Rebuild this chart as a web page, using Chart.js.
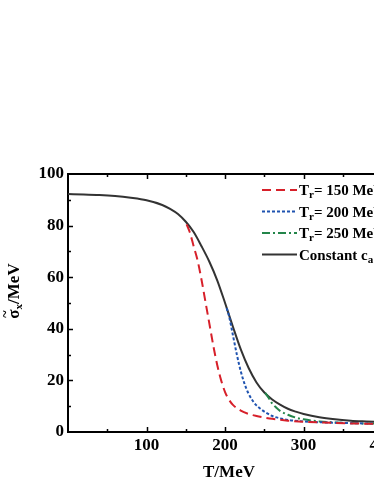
<!DOCTYPE html>
<html>
<head>
<meta charset="utf-8">
<script src="https://cdn.jsdelivr.net/npm/chart.js@4.4.1/dist/chart.umd.min.js"></script>
<style>
  html, body { margin: 0; padding: 0; background: #fff; overflow: hidden; width: 374px; height: 484px; }
  canvas { display: block; }
</style>
</head>
<body>
<canvas id="c" width="420" height="484"></canvas>
<script>
// ---- data ----
const xTickLabels = [100, 200, 300, 400];
const yTickLabels = [0, 20, 40, 60, 80, 100];

const legendLabels = ["T_r= 150 MeV", "T_r= 200 MeV", "T_r= 250 MeV", "Constant c_a"];

const tRed = [151, 155, 160, 165, 170, 175, 180, 185, 190, 195, 200, 205, 210, 220, 230, 240, 250, 260, 280, 300, 340, 380, 410];
const vRed = [80.5, 77.5, 72, 66.5, 59, 50.5, 42, 33.5, 26, 20, 15.5, 12.5, 10.5, 8.3, 7, 6.2, 5.6, 5.1, 4.4, 4.0, 3.5, 3.2, 3.1];

const tBlue = [202, 205, 210, 215, 220, 225, 230, 235, 240, 245, 250, 260, 270, 280, 300, 340, 380, 410];
const vBlue = [48, 45, 37.5, 30, 23.5, 18.5, 14.8, 12.2, 10.3, 9, 7.9, 6.2, 5.3, 4.7, 4.1, 3.6, 3.3, 3.2];

const tGreen = [251, 256, 260, 265, 270, 280, 290, 300, 320, 340, 380, 410];
const vGreen = [15.2, 13, 11, 9.5, 8.2, 6.7, 5.6, 4.9, 4.1, 3.7, 3.3, 3.2];

const tBlack = [0, 20, 40, 60, 80, 100, 120, 130, 140, 150, 160, 170, 180, 190, 200, 210, 220, 230, 240, 250, 260, 270, 280, 290, 300, 320, 340, 360, 380, 410];
const vBlack = [92.2, 92.1, 91.9, 91.5, 90.8, 89.8, 88, 86.5, 84.5, 81.5, 77.5, 72, 66, 58.8, 50, 40.8, 32, 24.8, 19.2, 15.3, 12.6, 10.6, 9.0, 7.9, 7.0, 5.7, 4.9, 4.4, 4.1, 3.7];

const pts = (t, v) => t.map((x, i) => ({ x: x, y: v[i] }));

const FONT = "'Liberation Serif', 'Times New Roman', serif";

// ---- plugin: inward ticks, frame, y title, legend ----
const decor = {
  id: 'decor',
  afterDraw(chart) {
    const ctx = chart.ctx;
    const a = chart.chartArea;
    const xs = chart.scales.x, ys = chart.scales.y;
    ctx.save();
    ctx.strokeStyle = '#000';
    ctx.lineWidth = 2;
    // top & right frame
    ctx.beginPath();
    ctx.moveTo(a.left - 1, a.top); ctx.lineTo(a.right, a.top);
    ctx.moveTo(a.right, a.top); ctx.lineTo(a.right, a.bottom);
    ctx.stroke();
    // x ticks (bottom & top)
    ctx.lineWidth = 1.5;
    for (let v = 50; v < xs.max; v += 50) {
      const px = Math.round(xs.getPixelForValue(v)) + 0.5;
      const len = (v % 100 === 0) ? 5 : 3;
      ctx.beginPath();
      ctx.moveTo(px, a.bottom); ctx.lineTo(px, a.bottom - len);
      ctx.moveTo(px, a.top); ctx.lineTo(px, a.top + len);
      ctx.stroke();
    }
    // y ticks (left & right)
    for (let v = 10; v < ys.max; v += 10) {
      const py = Math.round(ys.getPixelForValue(v)) + 0.5;
      const len = (v % 20 === 0) ? 5 : 3;
      ctx.beginPath();
      ctx.moveTo(a.left, py); ctx.lineTo(a.left + len, py);
      ctx.moveTo(a.right, py); ctx.lineTo(a.right - len, py);
      ctx.stroke();
    }

    // y axis title: sigma-tilde, subscript x, /MeV  (rotated)
    ctx.fillStyle = '#000';
    ctx.textBaseline = 'alphabetic';
    ctx.textAlign = 'left';
    const big = 'bold 17px ' + FONT, small = 'bold 11px ' + FONT;
    ctx.font = big; const wS = ctx.measureText('σ').width;
    ctx.font = small; const wX = ctx.measureText('x').width;
    ctx.font = big; const wR = ctx.measureText('/MeV').width;
    const total = wS + wX + wR;
    ctx.translate(19, 291);
    ctx.rotate(-Math.PI / 2);
    let x0 = -total / 2;
    ctx.font = big;
    ctx.fillText('σ', x0, 0);
    ctx.font = 'bold 14px ' + FONT;
    const wT = ctx.measureText('~').width;
    ctx.fillText('~', x0 + wS / 2 - wT / 2, -9);
    x0 += wS;
    ctx.font = small;
    ctx.fillText('x', x0, 3);
    x0 += wX;
    ctx.font = big;
    ctx.fillText('/MeV', x0, 0);
    ctx.restore();

    // legend
    ctx.save();
    const rows = [190, 211.5, 233, 254.5];
    chart.data.datasets.forEach((ds, i) => {
      const y = rows[i];
      ctx.strokeStyle = ds.borderColor;
      ctx.lineWidth = ds.borderWidth;
      ctx.setLineDash(ds.borderDash || []);
      ctx.beginPath();
      ctx.moveTo(262, y); ctx.lineTo(297, y);
      ctx.stroke();
      ctx.setLineDash([]);
      ctx.fillStyle = '#000';
      ctx.textBaseline = 'alphabetic';
      const parts = ds.label.split('_');
      let x = 299;
      const base = y + 5;
      ctx.font = 'bold 15px ' + FONT;
      ctx.fillText(parts[0], x, base);
      x += ctx.measureText(parts[0]).width;
      if (parts.length > 1) {
        const sub = parts[1].charAt(0);
        const rest = parts[1].slice(1);
        ctx.font = 'bold 11px ' + FONT;
        ctx.fillText(sub, x, base + 3);
        x += ctx.measureText(sub).width;
        ctx.font = 'bold 15px ' + FONT;
        ctx.fillText(rest, x, base);
      }
    });
    ctx.restore();
  }
};

const common = { pointRadius: 0, fill: false, cubicInterpolationMode: 'monotone', borderWidth: 2 };

new Chart(document.getElementById('c'), {
  type: 'line',
  data: {
    datasets: [
      Object.assign({ label: legendLabels[0], data: pts(tRed, vRed), borderColor: '#d7202a', borderDash: [9, 5] }, common),
      Object.assign({ label: legendLabels[1], data: pts(tBlue, vBlue), borderColor: '#1f53b0', borderDash: [3, 2] }, common),
      Object.assign({ label: legendLabels[2], data: pts(tGreen, vGreen), borderColor: '#23854a', borderDash: [8, 3, 2, 3] }, common),
      Object.assign({ label: legendLabels[3], data: pts(tBlack, vBlack), borderColor: '#333333' }, common)
    ]
  },
  options: {
    responsive: false,
    animation: false,
    devicePixelRatio: 1,
    layout: { padding: { top: 174, left: 0, right: 30, bottom: 0 } },
    plugins: { legend: { display: false }, tooltip: { enabled: false } },
    scales: {
      x: {
        type: 'linear',
        min: 0, max: 410,
        afterBuildTicks: s => { s.ticks = xTickLabels.map(v => ({ value: v })); },
        afterFit: s => { s.height = 52; },
        grid: { display: false, drawTicks: false },
        border: { display: true, width: 2, color: '#000' },
        ticks: { color: '#000', padding: 3, maxRotation: 0, font: { family: FONT, weight: 'bold', size: 17 } },
        title: { display: true, text: 'T/MeV', color: '#000', padding: { top: 0, bottom: 1 }, font: { family: FONT, weight: 'bold', size: 17 } }
      },
      y: {
        type: 'linear',
        min: 0, max: 100,
        afterBuildTicks: s => { s.ticks = yTickLabels.map(v => ({ value: v })); },
        afterFit: s => { s.width = 68; },
        grid: { display: false, drawTicks: false },
        border: { display: true, width: 2, color: '#000' },
        ticks: { color: '#000', padding: 4, font: { family: FONT, weight: 'bold', size: 17 } }
      }
    }
  },
  plugins: [decor]
});
</script>
</body>
</html>
